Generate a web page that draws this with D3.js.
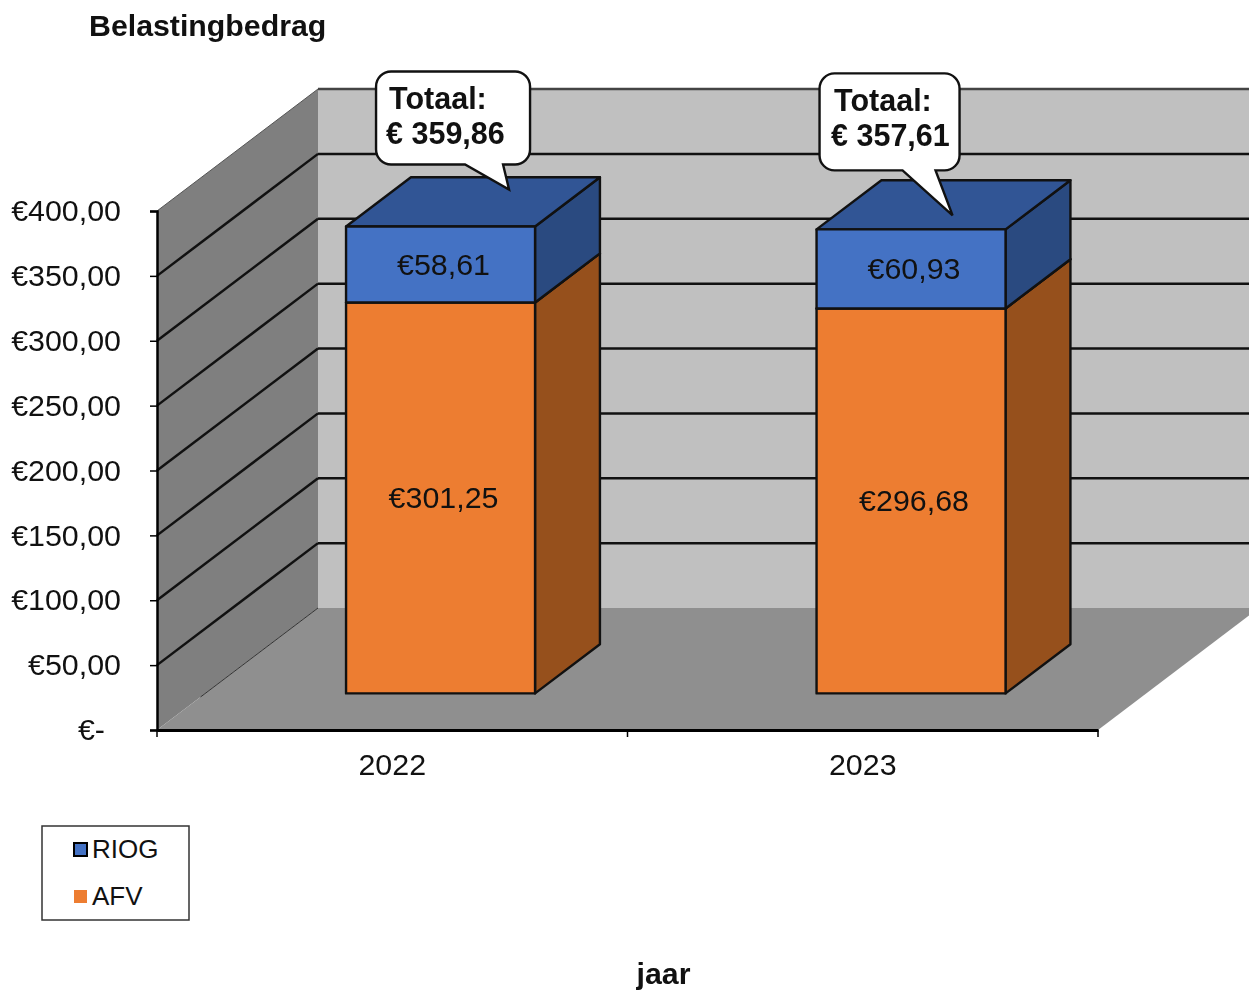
<!DOCTYPE html>
<html>
<head>
<meta charset="utf-8">
<script src="https://cdn.jsdelivr.net/npm/d3@7"></script>
<style>
	html, body { margin: 0; padding: 0; background: #fff; overflow: hidden; }
	svg { display: block; font-family: "Liberation Sans", Arial, sans-serif; filter: blur(0.45px); }
</style>
</head>
<body>
<svg id="chart" width="1249" height="991"></svg>
<script>
const years = ['2022', '2023'];
const afv = [301.25, 296.68];
const riog = [58.61, 60.93];
const totals = ['€ 359,86', '€ 357,61'];
const valueTicks = [0, 50, 100, 150, 200, 250, 300, 350, 400];
const seriesNames = ['AFV', 'RIOG'];

const colors = {
	AFV: { front: '#ed7d31', side: '#96501c', top: '#96501c' },
	RIOG: { front: '#4472c4', side: '#2a4a80', top: '#315595' }
};

var svg = d3.select('#chart');

var xScale = d3.scaleBand().domain(years).range([157, 1098]);
var yScale = d3.scaleLinear().domain([0, 400]).range([730, 211]);

// depth of the 3d box, z runs 0 (front) to 1 (back wall)
var depthX = 161;
var depthY = -122;
var barWidth = 189;
var barZ = [0.3, 0.703];
var tickFont = 30.4;

function project(x, value, z) {
	return [x + depthX * z, yScale(value) + depthY * z];
}

function poly(points) {
	return points.map(function(p){ return p.join(',') }).join(' ');
}

var rows = years.map(function(year, i){
	return { year: year, AFV: afv[i], RIOG: riog[i] };
});
var stacked = d3.stack().keys(seriesNames)(rows);

// walls and floor
var xMin = xScale.range()[0];
var xMax = xScale.range()[1];

svg.append('polygon')
	.attr('points', poly([project(xMin, 0, 1), project(xMax + 200, 0, 1), project(xMax + 200, 400, 1), project(xMin, 400, 1)]))
	.attr('fill', '#c0c0c0');

svg.append('polygon')
	.attr('points', poly([project(xMin, 0, 0), project(xMin, 0, 1), project(xMin, 400, 1), project(xMin, 400, 0)]))
	.attr('fill', '#7f7f7f');

svg.append('polygon')
	.attr('points', poly([project(xMin, 0, 0), project(xMax, 0, 0), project(xMax, 0, 1), project(xMin, 0, 1)]))
	.attr('fill', '#8f8f8f');

// thin seam where left wall meets the floor
var seamFrom = project(xMin, 0, 0.27);
var seamTo = project(xMin, 0, 1);
svg.append('line')
	.attr('x1', seamFrom[0]).attr('y1', seamFrom[1])
	.attr('x2', seamTo[0]).attr('y2', seamTo[1])
	.attr('stroke', '#333')
	.attr('stroke-width', 1);

// gridlines, left wall then back wall
valueTicks.slice(1).forEach(function(v){
	var a = project(xMin, v, 0);
	var b = project(xMin, v, 1);
	var top = v === 400;
	svg.append('line')
		.attr('x1', a[0]).attr('y1', a[1])
		.attr('x2', b[0]).attr('y2', b[1])
		.attr('stroke', top ? '#555' : '#111')
		.attr('stroke-width', top ? 1 : 2.5);
	svg.append('line')
		.attr('x1', b[0]).attr('y1', b[1])
		.attr('x2', 1249).attr('y2', b[1])
		.attr('stroke', top ? '#444' : '#111')
		.attr('stroke-width', 2.5);
});

// bars
stacked.forEach(function(layer){
	var c = colors[layer.key];
	layer.forEach(function(d, i){
		var x0 = xScale(d.data.year) + (xScale.bandwidth() - barWidth) / 2;
		var x1 = x0 + barWidth;
		var z0 = barZ[0];
		var z1 = barZ[1];
		var g = svg.append('g')
			.attr('stroke', '#111')
			.attr('stroke-width', 2.4)
			.attr('stroke-linejoin', 'round');

		g.append('polygon')
			.attr('points', poly([project(x1, d[0], z0), project(x1, d[0], z1), project(x1, d[1], z1), project(x1, d[1], z0)]))
			.attr('fill', c.side);

		g.append('polygon')
			.attr('points', poly([project(x0, d[1], z0), project(x0, d[1], z1), project(x1, d[1], z1), project(x1, d[1], z0)]))
			.attr('fill', c.top);

		g.append('polygon')
			.attr('points', poly([project(x0, d[0], z0), project(x1, d[0], z0), project(x1, d[1], z0), project(x0, d[1], z0)]))
			.attr('fill', c.front);

		var mid = project((x0 + x1) / 2 + 3, (d[0] + d[1]) / 2, z0);
		svg.append('text')
			.attr('x', mid[0])
			.attr('y', mid[1] + 10)
			.attr('text-anchor', 'middle')
			.attr('font-size', tickFont)
			.attr('fill', '#111')
			.text('€' + d3.format('.2f')(d.data[layer.key]).replace('.', ','));
	});
});

// axes
var yAxis = d3.axisLeft(yScale)
	.tickValues(valueTicks)
	.tickSize(7)
	.tickFormat(function(d){
		return d === 0 ? '€-' : '€' + d3.format('.2f')(d).replace('.', ',');
	});

var yG = svg.append('g').attr('transform', 'translate(157,0)').call(yAxis);
yG.select('.domain').attr('stroke', '#000').attr('stroke-width', 2.5);
yG.selectAll('.tick line').attr('stroke', '#000').attr('stroke-width', 1.5);
yG.selectAll('.tick text')
	.attr('x', function(d){ return d === 0 ? -52 : -36 })
	.attr('font-size', tickFont)
	.attr('font-family', '"Liberation Sans", Arial, sans-serif')
	.attr('fill', '#111');

var xAxis = d3.axisBottom(xScale).tickSize(0).tickPadding(23);
var xG = svg.append('g').attr('transform', 'translate(0,730)').call(xAxis);
xG.select('.domain').attr('stroke', '#000').attr('stroke-width', 3);
xG.selectAll('.tick text')
	.attr('font-size', tickFont)
	.attr('font-family', '"Liberation Sans", Arial, sans-serif')
	.attr('fill', '#111');

// ticks sit between the categories, not on them
d3.range(years.length + 1).forEach(function(i){
	var tx = xMin + i * xScale.step();
	xG.append('line')
		.attr('x1', tx).attr('x2', tx)
		.attr('y1', 0).attr('y2', 7)
		.attr('stroke', '#000')
		.attr('stroke-width', 1.5);
});

// callouts, placed relative to the top of each bar
var calloutLayout = [
	{ left: 30, right: 184, top: -155, bottom: -62, tailA: 119, tailB: 157, tipX: 163, tipY: -37, textDx: 0 },
	{ left: 3, right: 143, top: -156, bottom: -59, tailA: 86, tailB: 119, tipX: 136, tipY: -14, textDx: 1.5 }
];

calloutLayout.forEach(function(o, i){
	var x0 = xScale(years[i]) + (xScale.bandwidth() - barWidth) / 2;
	var p = project(x0, afv[i] + riog[i], barZ[0]);
	var l = p[0] + o.left;
	var r = p[0] + o.right;
	var t = p[1] + o.top;
	var b = p[1] + o.bottom;
	var rad = 15;
	var path = d3.path();
	path.moveTo(l + rad, t);
	path.lineTo(r - rad, t);
	path.arcTo(r, t, r, t + rad, rad);
	path.lineTo(r, b - rad);
	path.arcTo(r, b, r - rad, b, rad);
	path.lineTo(p[0] + o.tailB, b);
	path.lineTo(p[0] + o.tipX, p[1] + o.tipY);
	path.lineTo(p[0] + o.tailA, b);
	path.lineTo(l + rad, b);
	path.arcTo(l, b, l, b - rad, rad);
	path.lineTo(l, t + rad);
	path.arcTo(l, t, l + rad, t, rad);
	path.closePath();

	svg.append('path')
		.attr('d', path.toString())
		.attr('fill', '#fff')
		.attr('stroke', '#111')
		.attr('stroke-width', 2.4);

	svg.append('text')
		.attr('x', l + 13 + o.textDx)
		.attr('y', t + 38)
		.attr('font-size', 30.5)
		.attr('font-weight', 'bold')
		.attr('fill', '#111')
		.text('Totaal:');

	svg.append('text')
		.attr('x', l + 10 + o.textDx)
		.attr('y', t + 73)
		.attr('font-size', 30.5)
		.attr('font-weight', 'bold')
		.attr('fill', '#111')
		.text(totals[i]);
});

// titles
svg.append('text')
	.attr('x', 89)
	.attr('y', 36)
	.attr('font-size', 30.3)
	.attr('font-weight', 'bold')
	.attr('fill', '#111')
	.text('Belastingbedrag');

svg.append('text')
	.attr('x', 663.5)
	.attr('y', 984)
	.attr('text-anchor', 'middle')
	.attr('font-size', 30.3)
	.attr('font-weight', 'bold')
	.attr('fill', '#111')
	.text('jaar');

// legend
var legend = svg.append('g').attr('transform', 'translate(42,826)');
legend.append('rect')
	.attr('width', 147)
	.attr('height', 94)
	.attr('fill', '#fff')
	.attr('stroke', '#333')
	.attr('stroke-width', 1.5);

seriesNames.slice().reverse().forEach(function(name, i){
	var row = legend.append('g').attr('transform', 'translate(0,' + (i * 47) + ')');
	row.append('rect')
		.attr('x', 32)
		.attr('y', 17)
		.attr('width', 13)
		.attr('height', 13)
		.attr('fill', colors[name].front)
		.attr('stroke', name === 'RIOG' ? '#000' : 'none')
		.attr('stroke-width', 2);
	row.append('text')
		.attr('x', 50)
		.attr('y', 32)
		.attr('font-size', 26)
		.attr('fill', '#111')
		.text(name);
});
</script>
</body>
</html>
